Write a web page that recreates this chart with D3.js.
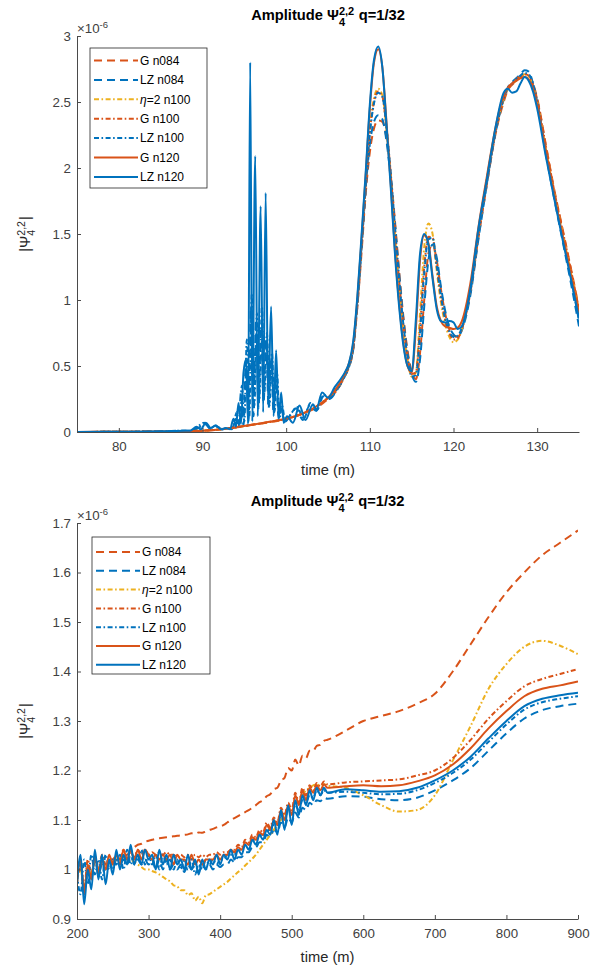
<!DOCTYPE html>
<html><head><meta charset="utf-8">
<script src="https://cdn.jsdelivr.net/npm/d3@7"></script>
<style>
body{margin:0;background:#fff;}
svg{display:block;font-family:"Liberation Sans",Arial,Helvetica,sans-serif;}
</style>
</head><body>
<svg id="chart" width="616" height="971"></svg>
<script>
// ---------------- DATA (values in units of 1e-6) ----------------
const seriesNames = ["G n084", "LZ n084", "η=2 n100", "G n100", "LZ n100", "G n120", "LZ n120"];

// Top panel: shared time grid
const topTime = [75, 80, 85, 88, 90, 92, 94, 96, 98, 100, 102, 104, 105, 106,
  107, 107.5, 108, 108.5, 109, 109.5, 110, 110.5, 111, 111.5, 112, 112.5, 113, 113.5, 114, 114.5,
  115, 115.5, 116, 116.5, 117, 117.5, 118, 118.5, 119, 119.5, 120, 120.5, 121,
  122, 123, 124, 125, 126, 126.5, 127, 127.5, 128, 128.5, 129, 129.5, 130, 131, 132, 133, 134, 135];

const topG084 = [0.000, 0.002, 0.004, 0.007, 0.010, 0.018, 0.034, 0.054, 0.074, 0.10, 0.14, 0.20, 0.25, 0.31,
  0.42, 0.49, 0.62, 0.94, 1.35, 1.80, 2.12, 2.30, 2.36, 2.35, 2.22, 1.95, 1.60, 1.22, 0.88, 0.62,
  0.46, 0.40, 0.60, 1.00, 1.35, 1.42, 1.30, 1.08, 0.90, 0.78, 0.73, 0.72, 0.78,
  1.05, 1.48, 1.88, 2.25, 2.50, 2.59, 2.63, 2.66, 2.69, 2.71, 2.70, 2.64, 2.53, 2.19, 1.85, 1.55, 1.25, 0.94];
const topLZ084 = [0.000, 0.002, 0.005, 0.010, null, null, null, null, null, null, null, null, null, null,
  0.42, 0.49, 0.62, 0.95, 1.38, 1.84, 2.18, 2.35, 2.40, 2.37, 2.20, 1.92, 1.58, 1.20, 0.86, 0.60,
  0.44, 0.38, 0.55, 0.95, 1.30, 1.42, 1.32, 1.10, 0.92, 0.80, 0.74, 0.72, 0.77,
  1.03, 1.47, 1.88, 2.26, 2.52, 2.61, 2.65, 2.68, 2.71, 2.74, 2.73, 2.64, 2.50, 2.12, 1.78, 1.46, 1.14, 0.80];
const topEta100 = [0.000, 0.002, 0.004, 0.007, 0.010, 0.019, 0.035, 0.055, 0.076, 0.10, 0.14, 0.21, 0.26, 0.32,
  0.43, 0.50, 0.64, 0.98, 1.42, 1.88, 2.30, 2.53, 2.60, 2.55, 2.28, 1.92, 1.50, 1.10, 0.78, 0.55,
  0.42, 0.45, 0.90, 1.40, 1.58, 1.50, 1.22, 0.98, 0.82, 0.72, 0.68, 0.70, 0.78,
  1.08, 1.52, 1.92, 2.28, 2.52, 2.60, 2.64, 2.66, 2.69, 2.71, 2.69, 2.62, 2.50, 2.16, 1.82, 1.52, 1.22, 0.92];
const topG100 = [0.000, 0.002, 0.004, 0.007, 0.010, 0.019, 0.035, 0.055, 0.076, 0.10, 0.14, 0.21, 0.26, 0.32,
  0.43, 0.50, 0.63, 0.97, 1.40, 1.86, 2.27, 2.50, 2.58, 2.54, 2.30, 1.95, 1.55, 1.15, 0.82, 0.58,
  0.44, 0.45, 0.80, 1.25, 1.48, 1.47, 1.25, 1.02, 0.85, 0.75, 0.70, 0.71, 0.78,
  1.07, 1.50, 1.90, 2.27, 2.52, 2.60, 2.64, 2.67, 2.70, 2.71, 2.70, 2.63, 2.52, 2.18, 1.84, 1.54, 1.24, 0.93];
const topLZ100 = [0.000, 0.002, 0.005, 0.010, null, null, null, null, null, null, null, null, null, null,
  0.43, 0.50, 0.63, 0.96, 1.40, 1.85, 2.26, 2.49, 2.57, 2.54, 2.30, 1.96, 1.56, 1.16, 0.82, 0.57,
  0.42, 0.43, 0.75, 1.20, 1.46, 1.47, 1.26, 1.03, 0.86, 0.76, 0.72, 0.73, 0.79,
  1.06, 1.50, 1.90, 2.27, 2.53, 2.61, 2.64, 2.67, 2.70, 2.72, 2.71, 2.64, 2.50, 2.14, 1.80, 1.49, 1.18, 0.84];
const topG120 = [0.000, 0.002, 0.004, 0.007, 0.010, 0.019, 0.036, 0.056, 0.077, 0.10, 0.14, 0.21, 0.26, 0.33,
  0.44, 0.52, 0.66, 1.00, 1.45, 1.94, 2.45, 2.80, 2.90, 2.76, 2.34, 1.88, 1.38, 0.98, 0.68, 0.50,
  0.45, 0.78, 1.30, 1.49, 1.43, 1.18, 0.95, 0.84, 0.80, 0.79, 0.78, 0.79, 0.84,
  1.12, 1.56, 1.94, 2.30, 2.55, 2.61, 2.64, 2.66, 2.68, 2.69, 2.67, 2.60, 2.48, 2.14, 1.80, 1.50, 1.20, 0.90];
const topLZ120 = [0.000, 0.002, 0.005, 0.010, null, null, null, null, null, null, null, null, null, null,
  0.45, 0.52, 0.68, 1.02, 1.48, 1.96, 2.48, 2.82, 2.92, 2.76, 2.32, 1.85, 1.35, 0.95, 0.66, 0.50,
  0.46, 0.85, 1.35, 1.50, 1.42, 1.16, 0.93, 0.84, 0.83, 0.84, 0.83, 0.78, 0.80,
  1.08, 1.55, 1.92, 2.30, 2.57, 2.60, 2.57, 2.58, 2.64, 2.69, 2.66, 2.58, 2.45, 2.10, 1.78, 1.47, 1.17, 0.86];

// Top panel: junk-radiation burst of the LZ runs (own time samples)
const burstLZ084T = [88.5, 89.5, 90.3, 91.0, 91.7, 92.4, 93.0, 93.5, 94.0, 94.3, 94.6, 94.9, 95.2, 95.5, 95.8, 96.1, 96.4, 96.7, 97.0, 97.3,
  97.6, 97.9, 98.2, 98.5, 98.8, 99.1, 99.4, 99.8, 100.4, 101.2, 102.0, 102.8, 103.6, 104.4, 105.2, 106.0, 106.5];
const burstLZ084V = [0.01, 0.03, 0.06, 0.02, 0.04, 0.02, 0.03, 0.02, 0.10, 0.03, 0.30, 0.05, 0.55, 0.08, 0.95, 0.12, 0.85, 0.18, 0.80, 0.22,
  0.70, 0.18, 0.55, 0.14, 0.40, 0.10, 0.20, 0.08, 0.12, 0.18, 0.09, 0.20, 0.16, 0.27, 0.25, 0.31, 0.36];
const burstLZ100T = [88.5, 89.4, 90.2, 90.9, 91.6, 92.3, 93.0, 93.6, 94.1, 94.4, 94.7, 95.0, 95.3, 95.6, 95.9, 96.2, 96.5, 96.8, 97.1, 97.4,
  97.7, 98.0, 98.3, 98.6, 98.9, 99.2, 99.5, 99.9, 100.5, 101.3, 102.1, 102.9, 103.7, 104.5, 105.3, 106.0, 106.5];
const burstLZ100V = [0.01, 0.04, 0.07, 0.03, 0.05, 0.02, 0.03, 0.03, 0.15, 0.04, 0.35, 0.08, 0.70, 0.12, 1.05, 0.20, 0.90, 0.25, 0.95, 0.30,
  0.75, 0.20, 0.60, 0.15, 0.45, 0.10, 0.20, 0.08, 0.13, 0.19, 0.10, 0.22, 0.17, 0.28, 0.26, 0.32, 0.37];
const burstLZ120T = [88.5, 89.3, 89.8, 90.4, 91.0, 91.6, 92.2, 92.8, 93.3, 93.7, 94.0, 94.3, 94.6, 94.9, 95.2, 95.45, 95.7, 95.95, 96.3, 96.6,
  96.95, 97.25, 97.55, 97.85, 98.2, 98.5, 98.8, 99.1, 99.4, 99.7, 100.1, 100.8, 101.6, 102.3, 103.2, 103.6, 104.3, 105.0, 105.8, 106.5];
const burstLZ120V = [0.01, 0.04, 0.02, 0.07, 0.03, 0.05, 0.02, 0.03, 0.02, 0.10, 0.04, 0.22, 0.06, 0.45, 0.55, 0.06, 2.80, 0.08, 2.09, 0.12,
  1.71, 0.15, 1.81, 0.20, 0.95, 0.12, 0.62, 0.10, 0.30, 0.07, 0.12, 0.07, 0.20, 0.09, 0.21, 0.17, 0.30, 0.26, 0.34, 0.40];

// Bottom panel: shared time grid
const botTime = [200, 205, 210, 215, 220, 225, 230, 235, 240, 245, 250, 255, 260, 265, 270, 275, 280, 285, 290, 295,
  300, 305, 310, 315, 320, 325, 330, 335, 340, 345, 350, 355, 360, 365, 370, 375, 380, 385, 390, 395,
  400, 405, 410, 415, 420, 425, 430, 435, 440, 445, 450, 455, 460, 465, 470, 475, 480, 485, 490, 495,
  500, 505, 510, 515, 520, 525, 530, 535, 540, 545, 550,
  575, 600, 625, 650, 675, 700, 725, 750, 775, 800, 825, 850, 875, 900];

const botG084 = [0.98, 1.01, 0.96, 1.00, 0.99, 1.02, 1.00, 1.02, 1.01, 1.02, 1.015, 1.03, 1.02, 1.03, 1.03, 1.04, 1.045, 1.05, 1.052, 1.056,
  1.058, 1.06, 1.062, 1.063, 1.064, 1.065, 1.066, 1.067, 1.068, 1.069, 1.07, 1.071, 1.073, 1.072, 1.075, 1.074, 1.077, 1.08, 1.082, 1.085,
  1.087, 1.09, 1.095, 1.10, 1.104, 1.108, 1.112, 1.116, 1.12, 1.125, 1.13, 1.136, 1.14, 1.148, 1.152, 1.162, 1.165, 1.18, 1.185, 1.205,
  1.20, 1.222, 1.21, 1.23, 1.225, 1.24, 1.24, 1.25, 1.252, 1.26, 1.262,
  1.28, 1.30, 1.31, 1.32, 1.335, 1.355, 1.40, 1.455, 1.51, 1.56, 1.60, 1.635, 1.66, 1.685];
const botLZ084 = [0.98, 1.02, 0.95, 1.00, 0.98, 1.02, 0.99, 1.01, 1.00, 1.02, 1.00, 1.02, 1.01, 1.02, 1.01, 1.03, 1.01, 1.02, 1.01, 1.02,
  1.01, 1.02, 1.00, 1.02, 1.00, 1.02, 1.00, 1.01, 1.00, 1.01, 0.995, 1.01, 1.00, 1.01, 0.995, 1.01, 1.00, 1.01, 1.00, 1.01,
  1.005, 1.01, 1.01, 1.02, 1.015, 1.025, 1.025, 1.035, 1.035, 1.045, 1.045, 1.055, 1.055, 1.07, 1.065, 1.08, 1.075, 1.095, 1.085, 1.105,
  1.095, 1.115, 1.105, 1.125, 1.12, 1.135, 1.13, 1.14, 1.138, 1.145, 1.143,
  1.148, 1.147, 1.142, 1.14, 1.145, 1.16, 1.18, 1.205, 1.24, 1.275, 1.305, 1.322, 1.33, 1.335];
const botEta100 = [0.98, 1.00, 0.96, 1.00, 0.99, 1.02, 1.00, 1.02, 1.01, 1.02, 1.01, 1.025, 1.02, 1.025, 1.02, 1.02, 1.015, 1.01, 1.005, 1.00,
  1.00, 0.997, 0.994, 0.99, 0.985, 0.98, 0.976, 0.968, 0.966, 0.958, 0.958, 0.948, 0.952, 0.937, 0.945, 0.932, 0.948, 0.95, 0.955, 0.96,
  0.965, 0.97, 0.975, 0.982, 0.988, 0.995, 1.00, 1.008, 1.015, 1.022, 1.03, 1.04, 1.05, 1.06, 1.07, 1.08, 1.09, 1.10, 1.11, 1.12,
  1.125, 1.135, 1.14, 1.15, 1.16, 1.165, 1.17, 1.172, 1.17, 1.172, 1.17,
  1.165, 1.150, 1.130, 1.117, 1.120, 1.150, 1.22, 1.29, 1.365, 1.415, 1.45, 1.462, 1.452, 1.435];
const botG100 = [0.97, 1.01, 0.96, 1.02, 0.99, 1.02, 1.00, 1.03, 1.01, 1.02, 1.02, 1.03, 1.02, 1.04, 1.02, 1.035, 1.025, 1.04, 1.03, 1.04,
  1.03, 1.035, 1.03, 1.035, 1.03, 1.035, 1.03, 1.03, 1.025, 1.03, 1.025, 1.03, 1.02, 1.03, 1.025, 1.03, 1.025, 1.03, 1.03, 1.035,
  1.03, 1.035, 1.035, 1.04, 1.04, 1.05, 1.045, 1.06, 1.055, 1.07, 1.065, 1.08, 1.075, 1.095, 1.085, 1.105, 1.095, 1.125, 1.11, 1.135,
  1.12, 1.155, 1.135, 1.165, 1.15, 1.17, 1.16, 1.175, 1.168, 1.178, 1.172,
  1.176, 1.178, 1.18, 1.182, 1.19, 1.20, 1.225, 1.262, 1.305, 1.34, 1.37, 1.385, 1.395, 1.405];
const botLZ100 = [0.99, 0.95, 1.02, 0.97, 1.03, 0.99, 1.02, 0.98, 1.03, 1.00, 1.02, 1.01, 1.03, 1.00, 1.04, 1.01, 1.03, 1.02, 1.04, 1.01,
  1.03, 1.01, 1.03, 1.00, 1.03, 1.01, 1.02, 1.00, 1.02, 1.00, 1.02, 1.00, 1.02, 0.99, 1.01, 1.00, 1.02, 1.01, 1.02, 1.01,
  1.02, 1.02, 1.03, 1.03, 1.03, 1.04, 1.04, 1.05, 1.05, 1.06, 1.06, 1.07, 1.07, 1.08, 1.08, 1.09, 1.09, 1.11, 1.10, 1.12,
  1.11, 1.13, 1.12, 1.14, 1.135, 1.15, 1.145, 1.16, 1.15, 1.16, 1.155,
  1.157, 1.155, 1.152, 1.153, 1.16, 1.175, 1.195, 1.222, 1.258, 1.293, 1.323, 1.338, 1.345, 1.35];
const botG120 = [0.98, 1.02, 0.95, 1.01, 0.98, 1.03, 0.99, 1.02, 1.00, 1.03, 1.01, 1.03, 1.01, 1.04, 1.02, 1.04, 1.02, 1.04, 1.02, 1.04,
  1.03, 1.02, 1.03, 1.02, 1.03, 1.02, 1.03, 1.01, 1.03, 1.02, 1.02, 1.01, 1.03, 1.01, 1.02, 1.01, 1.02, 1.02, 1.02, 1.03,
  1.02, 1.03, 1.03, 1.04, 1.035, 1.045, 1.04, 1.055, 1.05, 1.065, 1.06, 1.075, 1.07, 1.09, 1.08, 1.10, 1.09, 1.12, 1.10, 1.13,
  1.11, 1.15, 1.13, 1.16, 1.14, 1.165, 1.155, 1.17, 1.16, 1.172, 1.165,
  1.168, 1.170, 1.168, 1.170, 1.178, 1.19, 1.212, 1.245, 1.285, 1.32, 1.35, 1.365, 1.372, 1.38];
const botLZ120 = [0.97, 1.03, 0.93, 1.00, 0.96, 1.04, 0.98, 1.03, 0.97, 1.02, 0.99, 1.04, 1.00, 1.03, 1.01, 1.05, 1.01, 1.03, 1.01, 1.04,
  1.02, 1.03, 1.00, 1.04, 1.01, 1.03, 1.00, 1.03, 1.01, 1.02, 1.00, 1.03, 1.00, 1.02, 0.99, 1.02, 1.00, 1.02, 1.01, 1.03,
  1.01, 1.03, 1.02, 1.04, 1.02, 1.04, 1.03, 1.05, 1.04, 1.06, 1.05, 1.07, 1.06, 1.08, 1.07, 1.10, 1.07, 1.12, 1.08, 1.13,
  1.09, 1.14, 1.11, 1.15, 1.13, 1.16, 1.14, 1.165, 1.15, 1.165, 1.155,
  1.162, 1.160, 1.157, 1.158, 1.165, 1.18, 1.20, 1.228, 1.265, 1.30, 1.33, 1.345, 1.352, 1.357];

// Axis ticks
const topXTicks = [80, 90, 100, 110, 120, 130];
const topYTicks = [0, 0.5, 1, 1.5, 2, 2.5, 3];
const botXTicks = [200, 300, 400, 500, 600, 700, 800, 900];
const botYTicks = [0.9, 1, 1.1, 1.2, 1.3, 1.4, 1.5, 1.6, 1.7];

// ---------------- checks ----------------
[["topG084",topG084],["topLZ084",topLZ084],["topEta100",topEta100],["topG100",topG100],["topLZ100",topLZ100],["topG120",topG120],["topLZ120",topLZ120]]
  .forEach(([n,a]) => { if (a.length !== topTime.length) throw new Error(n + " length " + a.length + " vs " + topTime.length); });
[["botG084",botG084],["botLZ084",botLZ084],["botEta100",botEta100],["botG100",botG100],["botLZ100",botLZ100],["botG120",botG120],["botLZ120",botLZ120]]
  .forEach(([n,a]) => { if (a.length !== botTime.length) throw new Error(n + " length " + a.length + " vs " + botTime.length); });
[[burstLZ084T,burstLZ084V],[burstLZ100T,burstLZ100V],[burstLZ120T,burstLZ120V]].forEach(([t,v],i)=>{ if(t.length!==v.length) throw new Error("burst "+i+" "+t.length+" vs "+v.length); });

// ---------------- helpers ----------------
const pairs = (T, V) => T.map((t, i) => [t, V[i]]).filter(d => d[1] != null);
const merge = (T, V, BT, BV) => pairs(T, V).concat(pairs(BT, BV)).sort((a, b) => a[0] - b[0]);

const ORANGE = "#D95319", BLUE = "#0072BD", YELLOW = "#EDB120";
const DASH = "8,5", DASHDOT = "5,2.5,1.6,2.5";
const styles = [
  {color: ORANGE, dash: DASH},
  {color: BLUE, dash: DASH},
  {color: YELLOW, dash: DASHDOT},
  {color: ORANGE, dash: DASHDOT},
  {color: BLUE, dash: DASHDOT},
  {color: ORANGE, dash: null},
  {color: BLUE, dash: null}
];

const svg = d3.select("#chart");

function richText(parent, pieces) {
  const g = parent.append("g");
  let x = 0, prevStart = 0, prevW = 0;
  pieces.forEach(p => {
    const px = p.stack ? prevStart : x + (p.gap || 0);
    const t = g.append("text").attr("x", px).attr("y", p.dy || 0)
      .attr("font-size", p.size).attr("font-weight", p.weight || "normal")
      .attr("font-style", p.italic ? "italic" : "normal")
      .attr("fill", p.fill || "#000").text(p.t);
    const w = t.node().getComputedTextLength();
    if (p.stack) { x = prevStart + Math.max(prevW, w); }
    else { prevStart = px; prevW = w; x = px + w; }
  });
  return {g, width: x};
}

function drawPanel(cfg) {
  const x = d3.scaleLinear().domain(cfg.xDomain).range([cfg.left, cfg.right]);
  const y = d3.scaleLinear().domain(cfg.yDomain).range([cfg.bottom, cfg.top]);
  const clipId = "clip" + cfg.id;
  svg.append("clipPath").attr("id", clipId).append("rect")
    .attr("x", cfg.left).attr("y", cfg.top - 2).attr("width", cfg.right - cfg.left).attr("height", cfg.bottom - cfg.top + 2);

  // lines
  const line = d3.line().x(d => x(d[0])).y(d => y(d[1])).curve(d3.curveMonotoneX);
  const lg = svg.append("g").attr("clip-path", `url(#${clipId})`);
  cfg.series.forEach((s, i) => {
    lg.append("path").datum(s).attr("d", line)
      .attr("fill", "none").attr("stroke", styles[i].color).attr("stroke-width", 2)
      .attr("stroke-dasharray", styles[i].dash).attr("stroke-linejoin", "round");
  });

  // axes
  const ax = svg.append("g").attr("transform", `translate(0,${cfg.bottom})`)
    .call(d3.axisBottom(x).tickValues(cfg.xTicks).tickFormat(d3.format("d"))
      .tickSizeInner(-4).tickSizeOuter(0).tickPadding(10));
  const ay = svg.append("g").attr("transform", `translate(${cfg.left},0)`)
    .call(d3.axisLeft(y).tickValues(cfg.yTicks).tickFormat(d => d3.format("~g")(+d.toFixed(2)))
      .tickSizeInner(-4).tickSizeOuter(0).tickPadding(6));
  [ax, ay].forEach(a => {
    a.select(".domain").attr("stroke", "#4a4a4a").attr("stroke-width", 1);
    a.selectAll(".tick line").attr("stroke", "#4a4a4a");
    a.selectAll(".tick text").attr("fill", "#404040").attr("font-size", 13.3)
      .attr("font-family", "Liberation Sans, Arial, sans-serif");
  });

  // title
  const cx = (cfg.left + cfg.right) / 2;
  const tt = richText(svg, [
    {t: "Amplitude Ψ", size: 14.7, weight: "bold"},
    {t: "2,2", size: 11, weight: "bold", dy: -5.5},
    {t: "4", size: 11, weight: "bold", dy: 5.5, stack: true},
    {t: "q=1/32", size: 14.7, weight: "bold", gap: 4.5}
  ]);
  tt.g.attr("transform", `translate(${cx - tt.width / 2},${cfg.titleY})`);

  // exponent
  const ex = richText(svg, [
    {t: "×10", size: 13.3, fill: "#404040"},
    {t: "-6", size: 9.5, dy: -5.5, fill: "#404040"}
  ]);
  ex.g.attr("transform", `translate(${cfg.left},${cfg.top - 3})`);

  // x label
  svg.append("text").attr("x", cx).attr("y", cfg.bottom + 43).attr("text-anchor", "middle")
    .attr("font-size", 14.7).attr("fill", "#262626").text("time (m)");

  // y label (rotated)
  const yl = richText(svg, [
    {t: "|Ψ", size: 14.7, fill: "#262626"},
    {t: "2,2", size: 10.5, dy: -5.5, fill: "#262626"},
    {t: "4", size: 10.5, dy: 5, stack: true, fill: "#262626"},
    {t: "|", size: 14.7, fill: "#262626", gap: 1}
  ]);
  const cy = (cfg.top + cfg.bottom) / 2;
  yl.g.attr("transform", `translate(30,${cy + yl.width / 2}) rotate(-90)`);

  // legend
  const L = cfg.legend;
  const leg = svg.append("g");
  leg.append("rect").attr("x", L.x).attr("y", L.y).attr("width", L.w).attr("height", L.h)
    .attr("fill", "#fff").attr("stroke", "#262626").attr("stroke-width", 0.8);
  seriesNames.forEach((name, i) => {
    const ry = L.y + L.first + i * L.step;
    leg.append("line").attr("x1", L.x + 4).attr("x2", L.x + 48).attr("y1", ry).attr("y2", ry)
      .attr("stroke", styles[i].color).attr("stroke-width", 2).attr("stroke-dasharray", styles[i].dash);
    const t = leg.append("text").attr("x", L.x + 50).attr("y", ry + 4.3).attr("font-size", 12).attr("fill", "#000");
    if (name.startsWith("η")) {
      t.append("tspan").attr("font-style", "italic").text("η");
      t.append("tspan").text(name.slice(1));
    } else t.text(name);
  });
}

drawPanel({
  id: "top", xDomain: [75, 135], yDomain: [0, 3],
  left: 77, right: 579, top: 36, bottom: 432, titleY: 20,
  xTicks: topXTicks, yTicks: topYTicks,
  legend: {x: 90, y: 48, w: 117, h: 140, first: 12.5, step: 19.4},
  series: [
    pairs(topTime, topG084),
    merge(topTime, topLZ084, burstLZ084T, burstLZ084V),
    pairs(topTime, topEta100),
    pairs(topTime, topG100),
    merge(topTime, topLZ100, burstLZ100T, burstLZ100V),
    pairs(topTime, topG120),
    merge(topTime, topLZ120, burstLZ120T, burstLZ120V)
  ]
});

drawPanel({
  id: "bot", xDomain: [200, 900], yDomain: [0.9, 1.7],
  left: 77, right: 578, top: 523, bottom: 919, titleY: 506,
  xTicks: botXTicks, yTicks: botYTicks,
  legend: {x: 92, y: 537, w: 118, h: 137, first: 15, step: 18.8},
  series: [
    pairs(botTime, botG084),
    pairs(botTime, botLZ084),
    pairs(botTime, botEta100),
    pairs(botTime, botG100),
    pairs(botTime, botLZ100),
    pairs(botTime, botG120),
    pairs(botTime, botLZ120)
  ]
});
</script>
</body></html>
